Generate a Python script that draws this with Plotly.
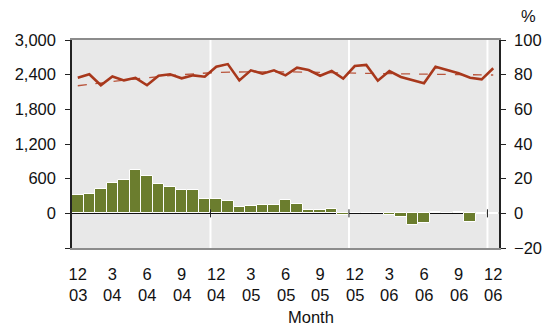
import plotly.graph_objects as go

# ---- data ----
months = list(range(37))  # Dec 2003 .. Dec 2006
bar_values = [312, 334, 419, 530, 571, 744, 646, 512, 455, 403, 398, 253,
              242, 218, 109, 126, 144, 149, 230, 166, 57, 52, 80, -35,
              0, 0, 0, -25, -59, -195, -173, 20, 0, 20, -150, -20, -17]
line_values = [78.2, 80.2, 73.9, 79.0, 76.7, 78.2, 73.9, 79.4, 80.2, 77.9, 79.6, 78.8,
               84.6, 86.1, 76.7, 82.5, 80.6, 82.5, 79.6, 84.0, 82.7, 79.4, 82.1, 77.7,
               85.0, 85.6, 76.5, 82.1, 78.7, 76.9, 75.0, 84.6, 82.7, 80.8, 78.2, 77.3, 83.7]
trend_x = [0, 1, 3, 5, 8, 12, 18, 24, 30, 36]
trend_values = [73.6, 74.4, 76.0, 77.5, 79.4, 81.2, 81.6, 80.9, 80.3, 79.8]
tick_months = ["12", "3", "6", "9", "12", "3", "6", "9", "12", "3", "6", "9", "12"]
tick_years = ["03", "04", "04", "04", "04", "05", "05", "05", "05", "06", "06", "06", "06"]
tick_pos = list(range(0, 37, 3))
left_ticks = [-600, 0, 600, 1200, 1800, 2400, 3000]
left_labels = ["", "0", "600", "1,200", "1,800", "2,400", "3,000"]
right_ticks = [-20, 0, 20, 40, 60, 80, 100]
year_breaks = [11.5, 23.5, 35.5]

FONT = "Liberation Sans, Arial, sans-serif"
FS = 16.5

fig = go.Figure()
fig.add_trace(go.Bar(x=months, y=bar_values, marker=dict(color="#6B7D2E", line=dict(color="white", width=1)),
                     yaxis="y", showlegend=False))
fig.add_trace(go.Scatter(x=trend_x, y=trend_values, mode="lines", yaxis="y2", line_shape="spline",
                         line=dict(color="#B9553C", width=1.3, dash="dash"), showlegend=False))
fig.add_trace(go.Scatter(x=months, y=line_values, mode="lines", yaxis="y2",
                         line=dict(color="#A8381C", width=2.6), showlegend=False))

shapes = []
for xb in year_breaks:
    shapes.append(dict(type="line", xref="x", yref="paper", x0=xb, x1=xb, y0=0, y1=1,
                       line=dict(color="white", width=2), layer="below"))
    shapes.append(dict(type="line", xref="x", yref="y", x0=xb, x1=xb, y0=-70, y1=70,
                       line=dict(color="#222", width=1), layer="above"))

annotations = []
for p, yr in zip(tick_pos, tick_years):
    annotations.append(dict(x=p, y=0, xref="x", yref="paper", text=yr, showarrow=False,
                            yshift=-47, yanchor="middle", font=dict(size=FS, color="#111", family=FONT)))
annotations.append(dict(x=0.56, y=0, xref="paper", yref="paper", text="Month", showarrow=False,
                        yshift=-69, yanchor="middle", font=dict(size=FS, color="#111", family=FONT)))
annotations.append(dict(x=1.0, y=1, xref="paper", yref="paper", text="%", showarrow=False,
                        xshift=38, yshift=24, yanchor="middle", borderpad=0,
                        font=dict(size=FS, color="#111", family=FONT)))

# page body has an 8px default margin, so the figure is sized to fit 555x332 exactly
fig.update_layout(
    width=547, height=324,
    margin=dict(l=64, r=56, t=32, b=84, autoexpand=False),
    paper_bgcolor="white", plot_bgcolor="#E8E8E8",
    bargap=0,
    font=dict(family=FONT, size=FS, color="#111"),
    shapes=shapes, annotations=annotations,
    xaxis=dict(range=[-0.5, 36.5], tickvals=tick_pos, ticktext=tick_months, ticks="",
               showgrid=False, zeroline=False, showline=True, linecolor="#8C8C8C", linewidth=2,
               mirror=True, ticklabelstandoff=10, tickfont=dict(size=FS), automargin=False),
    yaxis=dict(range=[-600, 3000], tickvals=left_ticks, ticktext=left_labels, ticks="outside",
               ticklen=5, tickcolor="#222", showgrid=False, zeroline=True, zerolinecolor="#111",
               zerolinewidth=1.5, showline=True, linecolor="#222", linewidth=1.5,
               tickfont=dict(size=FS), automargin=False, ticklabelstandoff=6),
    yaxis2=dict(range=[-20, 100], tickvals=right_ticks, overlaying="y", side="right", ticks="outside",
                ticklen=5, tickcolor="#222", showgrid=False, zeroline=False, showline=True,
                linecolor="#222", linewidth=1.5, tickfont=dict(size=FS), automargin=False,
                ticklabelstandoff=5),
)

fig.write_html("out.html")
